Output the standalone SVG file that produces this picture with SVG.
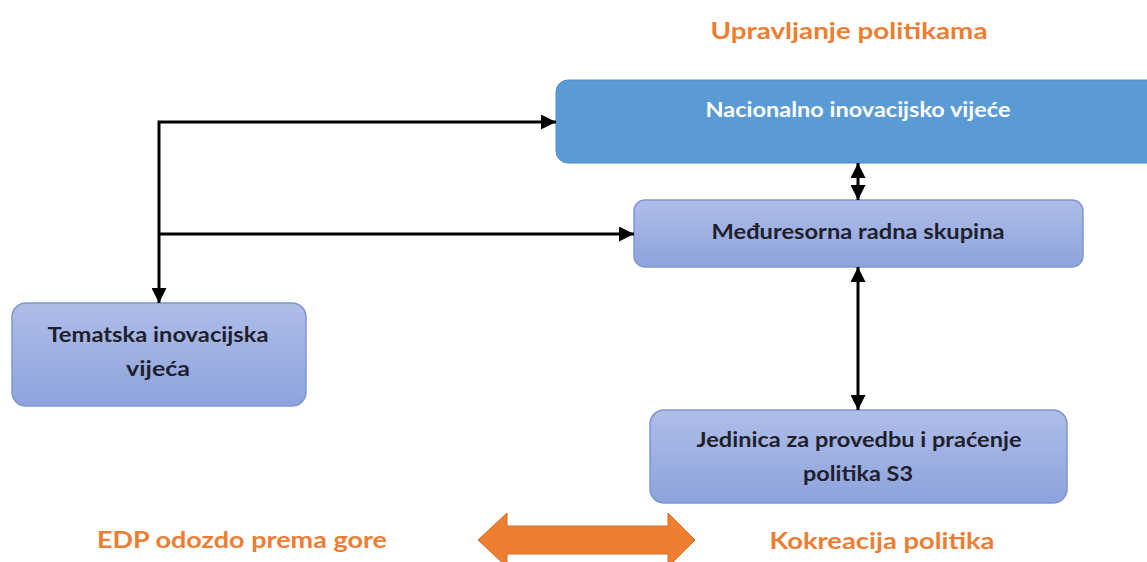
<svg xmlns="http://www.w3.org/2000/svg" width="1147" height="562" viewBox="0 0 1147 562">
<defs>
<linearGradient id="lb" x1="0" y1="0" x2="0" y2="1">
<stop offset="0" stop-color="#AFBDE8"/>
<stop offset="1" stop-color="#8DA3DC"/>
</linearGradient>
<marker id="ah" viewBox="0 0 10 10" refX="10" refY="5" markerWidth="5" markerHeight="5" orient="auto-start-reverse" markerUnits="strokeWidth">
<path d="M0,0 L10,5 L0,10 Z" fill="#000"/>
</marker>
<style>
.lbl{font-family:Lato,"Open Sans","Liberation Sans",sans-serif;font-weight:bold;text-anchor:middle}
.org{fill:#ED7D31;font-size:23px}
.dk{fill:#1F1F2E;font-size:21px}
.wt{fill:#fff;font-size:21px}
.box{fill:url(#lb);stroke:#7F96CF;stroke-width:1.5}
.con{stroke:#000;stroke-width:3;fill:none}
</style>
</defs>
<g id="title">
<text class="lbl org" x="849" y="39" textLength="277" lengthAdjust="spacingAndGlyphs">Upravljanje politikama</text>
</g>
<g id="nacionalno">
<rect x="556" y="80" width="610" height="83" rx="12" fill="#5B9BD5" stroke="#4F8CC6" stroke-width="1"/>
<text class="lbl wt" x="858" y="117" textLength="305" lengthAdjust="spacingAndGlyphs">Nacionalno inovacijsko vijeće</text>
</g>
<g id="meduresorna">
<rect class="box" x="634" y="200" width="449" height="67" rx="11"/>
<text class="lbl dk" x="858" y="239" textLength="293" lengthAdjust="spacingAndGlyphs">Međuresorna radna skupina</text>
</g>
<g id="tematska">
<rect class="box" x="12" y="303" width="294" height="103" rx="14"/>
<text class="lbl dk" x="158" y="342" textLength="221" lengthAdjust="spacingAndGlyphs">Tematska inovacijska</text>
<text class="lbl dk" x="158" y="376" textLength="64" lengthAdjust="spacingAndGlyphs">vijeća</text>
</g>
<g id="jedinica">
<rect class="box" x="650" y="410" width="417" height="93" rx="14"/>
<text class="lbl dk" x="859" y="447" textLength="325" lengthAdjust="spacingAndGlyphs">Jedinica za provedbu i praćenje</text>
<text class="lbl dk" x="858" y="481" textLength="110" lengthAdjust="spacingAndGlyphs">politika S3</text>
</g>
<g id="connectors">
<path class="con" d="M556,122 L159,122 L159,303" marker-start="url(#ah)" marker-end="url(#ah)"/>
<path class="con" d="M159,234 L634,234" marker-end="url(#ah)"/>
<path class="con" d="M858,163 L858,200" marker-start="url(#ah)" marker-end="url(#ah)"/>
<path class="con" d="M858,267 L858,410" marker-start="url(#ah)" marker-end="url(#ah)"/>
</g>
<g id="bottom">
<text class="lbl org" x="242" y="548" textLength="290" lengthAdjust="spacingAndGlyphs">EDP odozdo prema gore</text>
<path d="M478,540 L507,513 L507,526 L668,526 L668,513 L695,540 L668,567 L668,554 L507,554 L507,567 Z" fill="#ED7D31" stroke="#D86E26" stroke-width="1"/>
<text class="lbl org" x="882" y="549" textLength="225" lengthAdjust="spacingAndGlyphs">Kokreacija politika</text>
</g>
</svg>
